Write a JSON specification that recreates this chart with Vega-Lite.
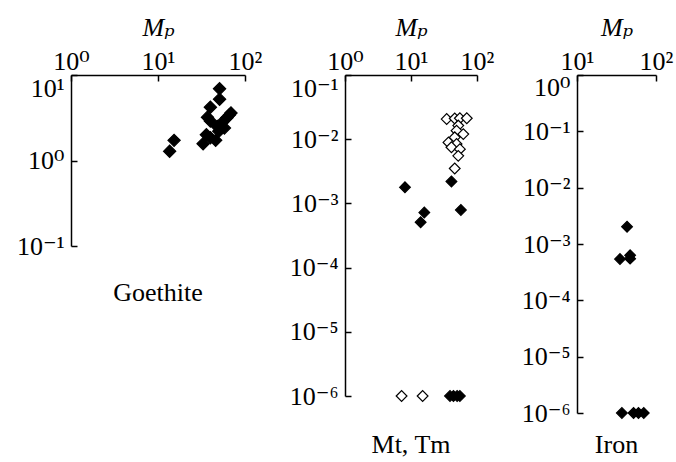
{
  "$schema": "https://vega.github.io/schema/vega-lite/v6.json",
  "padding": {"left": 16, "top": 14, "right": 5, "bottom": 0},
  "background": "white",
  "datasets": {
    "goethite": [
      {"mp": 13.6, "v": 1.28, "type": "filled"},
      {"mp": 15.3, "v": 1.72, "type": "filled"},
      {"mp": 51, "v": 6.9, "type": "filled"},
      {"mp": 51, "v": 5.2, "type": "filled"},
      {"mp": 40, "v": 4.2, "type": "filled"},
      {"mp": 40, "v": 2.9, "type": "filled"},
      {"mp": 37, "v": 3.2, "type": "filled"},
      {"mp": 69, "v": 3.6, "type": "filled"},
      {"mp": 62, "v": 3.16, "type": "filled"},
      {"mp": 55, "v": 2.8, "type": "filled"},
      {"mp": 48, "v": 2.5, "type": "filled"},
      {"mp": 58, "v": 2.4, "type": "filled"},
      {"mp": 36, "v": 2.0, "type": "filled"},
      {"mp": 33, "v": 1.57, "type": "filled"},
      {"mp": 40, "v": 1.85, "type": "filled"},
      {"mp": 46, "v": 1.72, "type": "filled"},
      {"mp": 50, "v": 2.2, "type": "filled"},
      {"mp": 66, "v": 3.4, "type": "filled"}
    ],
    "mttm": [
      {"mp": 34.7, "v": 0.0206, "type": "open"},
      {"mp": 46, "v": 0.021, "type": "open"},
      {"mp": 55, "v": 0.0212, "type": "open"},
      {"mp": 70, "v": 0.0212, "type": "open"},
      {"mp": 52, "v": 0.0163, "type": "open"},
      {"mp": 49, "v": 0.0136, "type": "open"},
      {"mp": 62, "v": 0.012, "type": "open"},
      {"mp": 46, "v": 0.0107, "type": "open"},
      {"mp": 37, "v": 0.0089, "type": "open"},
      {"mp": 49, "v": 0.0084, "type": "open"},
      {"mp": 41, "v": 0.0075, "type": "open"},
      {"mp": 55, "v": 0.0070, "type": "open"},
      {"mp": 52, "v": 0.0055, "type": "open"},
      {"mp": 46, "v": 0.0035, "type": "open"},
      {"mp": 7.2, "v": 0.000001, "type": "open"},
      {"mp": 15, "v": 0.000001, "type": "open"},
      {"mp": 8.1, "v": 0.00178, "type": "filled"},
      {"mp": 41, "v": 0.0022, "type": "filled"},
      {"mp": 15.9, "v": 0.00072, "type": "filled"},
      {"mp": 14, "v": 0.00051, "type": "filled"},
      {"mp": 57, "v": 0.00079, "type": "filled"},
      {"mp": 39, "v": 0.000001, "type": "filled"},
      {"mp": 44, "v": 0.000001, "type": "filled"},
      {"mp": 50, "v": 0.000001, "type": "filled"},
      {"mp": 55, "v": 0.000001, "type": "filled"}
    ],
    "iron": [
      {"mp": 43, "v": 0.00203, "type": "filled"},
      {"mp": 35, "v": 0.00054, "type": "filled"},
      {"mp": 47, "v": 0.00063, "type": "filled"},
      {"mp": 47, "v": 0.00055, "type": "filled"},
      {"mp": 37, "v": 0.000001, "type": "filled"},
      {"mp": 52, "v": 0.000001, "type": "filled"},
      {"mp": 60, "v": 0.000001, "type": "filled"},
      {"mp": 70, "v": 0.000001, "type": "filled"}
    ]
  },
  "config": {
    "view": {"stroke": null},
    "font": "Liberation Serif, DejaVu Serif",
    "axis": {
      "grid": false,
      "domainColor": "black",
      "domainWidth": 1.5,
      "tickColor": "black",
      "tickWidth": 1.5,
      "tickSize": -6,
      "labelFont": "Liberation Serif, DejaVu Serif",
      "labelFontSize": 26,
      "labelColor": "black",
      "labelPadding": 13,
      "titleFont": "Liberation Serif, DejaVu Serif",
      "titleFontSize": 26,
      "titleFontStyle": "italic",
      "titleFontWeight": "normal",
      "titleColor": "black"
    },
    "axisX": {"orient": "top", "labelFlush": false, "labelPadding": 7, "titlePadding": 8},
    "axisY": {"labelFlush": false},
    "title": {"font": "Liberation Serif, DejaVu Serif", "fontSize": 26, "fontWeight": "normal", "color": "black", "orient": "bottom", "anchor": "middle", "frame": "group"}
  },
  "bounds": "flush",
  "spacing": 100,
  "hconcat": [
    {
      "width": 174,
      "height": 171,
      "data": {"name": "goethite"},
      "title": {"text": "Goethite", "offset": 21},
      "mark": {"type": "point", "shape": "diamond", "size": 150, "filled": true, "opacity": 1, "stroke": "black", "strokeWidth": 1.2},
      "encoding": {
        "x": {"field": "mp", "type": "quantitative", "scale": {"type": "log", "domain": [1, 100]}, "axis": {"orient": "top", "title": "Mₚ", "values": [1, 10, 100], "labelExpr": "'10' + (round(log(datum.value)/LN10) < 0 ? '⁻' : '') + ['⁰','¹','²','³','⁴','⁵','⁶'][abs(round(log(datum.value)/LN10))]"}},
        "y": {"field": "v", "type": "quantitative", "scale": {"type": "log", "domain": [0.1, 10]}, "axis": {"title": null, "values": [0.1, 1, 10], "labelOffset": {"condition": {"test": "datum.value == 10", "value": 13}, "value": 0}, "labelExpr": "'10' + (round(log(datum.value)/LN10) < 0 ? '⁻' : '') + ['⁰','¹','²','³','⁴','⁵','⁶'][abs(round(log(datum.value)/LN10))]"}},
        "fill": {"field": "type", "type": "nominal", "scale": {"domain": ["filled", "open"], "range": ["black", "white"]}, "legend": null}
      }
    },
    {
      "width": 132,
      "height": 321,
      "data": {"name": "mttm"},
      "title": {"text": "Mt, Tm", "offset": 23},
      "mark": {"type": "point", "shape": "diamond", "size": 115, "filled": true, "opacity": 1, "stroke": "black", "strokeWidth": 1.2},
      "encoding": {
        "x": {"field": "mp", "type": "quantitative", "scale": {"type": "log", "domain": [1, 100]}, "axis": {"orient": "top", "title": "Mₚ", "values": [1, 10, 100], "labelExpr": "'10' + (round(log(datum.value)/LN10) < 0 ? '⁻' : '') + ['⁰','¹','²','³','⁴','⁵','⁶'][abs(round(log(datum.value)/LN10))]"}},
        "y": {"field": "v", "type": "quantitative", "scale": {"type": "log", "domain": [0.000001, 0.1]}, "axis": {"title": null, "values": [0.000001, 0.00001, 0.0001, 0.001, 0.01, 0.1], "labelOffset": {"condition": {"test": "datum.value == 0.1", "value": 13}, "value": 0}, "labelExpr": "'10' + (round(log(datum.value)/LN10) < 0 ? '⁻' : '') + ['⁰','¹','²','³','⁴','⁵','⁶'][abs(round(log(datum.value)/LN10))]"}},
        "fill": {"field": "type", "type": "nominal", "scale": {"domain": ["filled", "open"], "range": ["black", "white"]}, "legend": null}
      }
    },
    {
      "width": 79,
      "height": 338,
      "data": {"name": "iron"},
      "title": {"text": "Iron", "offset": 6},
      "mark": {"type": "point", "shape": "diamond", "size": 115, "filled": true, "opacity": 1, "stroke": "black", "strokeWidth": 1.2},
      "encoding": {
        "x": {"field": "mp", "type": "quantitative", "scale": {"type": "log", "domain": [10, 100]}, "axis": {"orient": "top", "title": "Mₚ", "values": [10, 100], "labelExpr": "'10' + (round(log(datum.value)/LN10) < 0 ? '⁻' : '') + ['⁰','¹','²','³','⁴','⁵','⁶'][abs(round(log(datum.value)/LN10))]"}},
        "y": {"field": "v", "type": "quantitative", "scale": {"type": "log", "domain": [0.000001, 1]}, "axis": {"title": null, "values": [0.000001, 0.00001, 0.0001, 0.001, 0.01, 0.1, 1], "labelOffset": {"condition": {"test": "datum.value == 1", "value": 12}, "value": 0}, "labelExpr": "'10' + (round(log(datum.value)/LN10) < 0 ? '⁻' : '') + ['⁰','¹','²','³','⁴','⁵','⁶'][abs(round(log(datum.value)/LN10))]"}},
        "fill": {"field": "type", "type": "nominal", "scale": {"domain": ["filled", "open"], "range": ["black", "white"]}, "legend": null}
      }
    }
  ]
}
